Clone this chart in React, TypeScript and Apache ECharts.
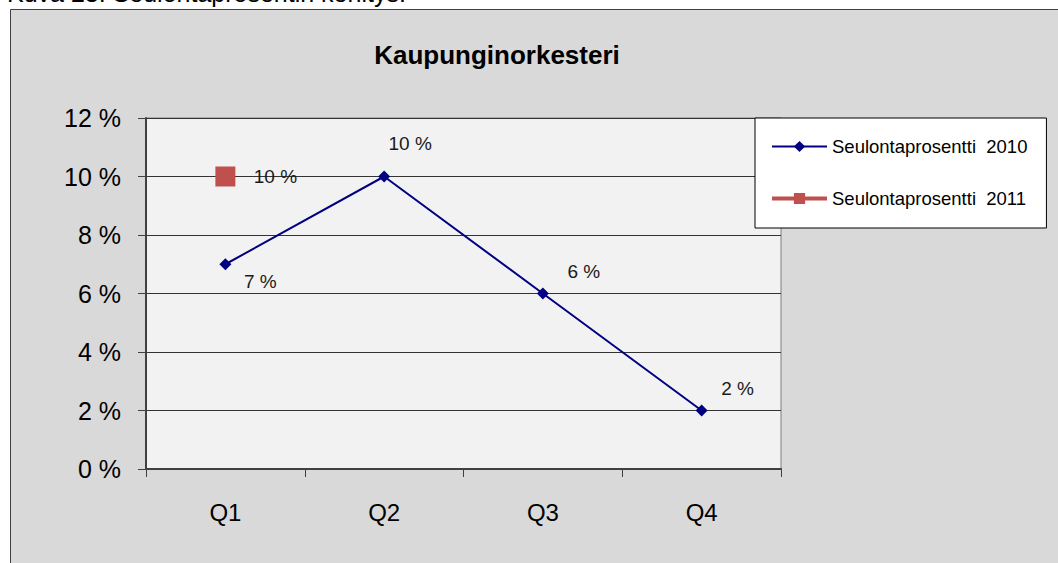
import React, { useEffect, useRef } from "react";
import * as echarts from "echarts";

const categories = ["Q1", "Q2", "Q3", "Q4"];
const values2010 = [7, 10, 6, 2];
const values2011: (number | null)[] = [10, null, null, null];
const seriesNames = ["Seulontaprosentti  2010", "Seulontaprosentti  2011"];
const yTicks = { min: 0, max: 12, interval: 2 };
const title = "Kaupunginorkesteri";
const caption = "Kuva 23. Seulontaprosentin kehitys.";

// label placement (style only)
const labelOffsets2010 = [
  [35, 17],
  [26, -33],
  [41, -22],
  [36, -22],
];
const labelOffsets2011 = [[50, 0], [0, 0], [0, 0], [0, 0]];

const FONT = "'Liberation Sans', Arial, sans-serif";

export default function App() {
  const ref = useRef<HTMLDivElement>(null);
  useEffect(() => {
    if (!ref.current) return;
    const chart = echarts.init(ref.current, undefined, { renderer: "svg" });
    const lbl = (offs: number[][]) => (v: number | null, i: number) => ({
      value: v,
      label: {
        show: v !== null,
        position: "inside",
        offset: offs[i],
        color: "#1a1a1a",
        fontSize: 19,
        fontFamily: FONT,
        formatter: (p: any) => `${p.value} %`,
      },
    });
    chart.setOption({
      animation: false,
      backgroundColor: "#ffffff",
      textStyle: { fontFamily: FONT },
      graphic: [
        {
          type: "rect",
          z: -10,
          silent: true,
          shape: { x: 10.5, y: 9.5, width: 1060, height: 560 },
          style: { fill: "#d9d9d9", stroke: "#404040", lineWidth: 1 },
        },
        {
          type: "text",
          x: 7,
          y: 5,
          style: {
            text: caption,
            font: `25px ${FONT}`,
            fill: "#000",
            verticalAlign: "bottom",
            align: "left",
          },
        },
        {
          type: "text",
          x: 497,
          y: 55,
          style: {
            text: title,
            font: `bold 26px ${FONT}`,
            fill: "#000",
            verticalAlign: "middle",
            align: "center",
          },
        },
      ],
      grid: {
        left: 146,
        right: 277,
        top: 118,
        bottom: 94,
        show: true,
        backgroundColor: "#f2f2f2",
        borderColor: "#808080",
        borderWidth: 1,
      },
      legend: {
        orient: "vertical",
        left: 755,
        top: 118,
        backgroundColor: "#ffffff",
        borderColor: "#000",
        borderWidth: 1,
        padding: [19, 19, 20, 15],
        itemWidth: 55,
        itemHeight: 14,
        itemGap: 33,
        textStyle: { fontSize: 18.5, color: "#000", fontFamily: FONT },
        data: [
          { name: seriesNames[0] },
          { name: seriesNames[1], lineStyle: { width: 4 } },
        ],
      },
      xAxis: {
        type: "category",
        data: categories,
        boundaryGap: true,
        axisLine: { lineStyle: { color: "#404040", width: 2 } },
        axisTick: { show: true, length: 8, lineStyle: { color: "#404040" } },
        axisLabel: { color: "#000", fontSize: 24, margin: 31, fontFamily: FONT },
      },
      yAxis: {
        type: "value",
        min: yTicks.min,
        max: yTicks.max,
        interval: yTicks.interval,
        axisLine: { show: true, lineStyle: { color: "#404040", width: 2 } },
        axisTick: { show: true, length: 8, lineStyle: { color: "#404040" } },
        axisLabel: {
          color: "#000",
          fontSize: 25,
          margin: 25,
          fontFamily: FONT,
          formatter: "{value} %",
        },
        splitLine: { show: true, lineStyle: { color: "#333", width: 1 } },
      },
      series: [
        {
          name: seriesNames[0],
          type: "line",
          data: values2010.map(lbl(labelOffsets2010)),
          symbol: "diamond",
          symbolSize: 12,
          lineStyle: { color: "#000080", width: 2 },
          itemStyle: { color: "#000080" },
        },
        {
          name: seriesNames[1],
          type: "line",
          data: values2011.map(lbl(labelOffsets2011)),
          symbol: "rect",
          symbolSize: 20,
          lineStyle: { color: "#c0504d", width: 4 },
          itemStyle: { color: "#c0504d" },
        },
      ],
    });
    return () => chart.dispose();
  }, []);
  return (
    <div
      ref={ref}
      style={{ position: "fixed", left: 0, top: 0, width: 1058, height: 563 }}
    />
  );
}
